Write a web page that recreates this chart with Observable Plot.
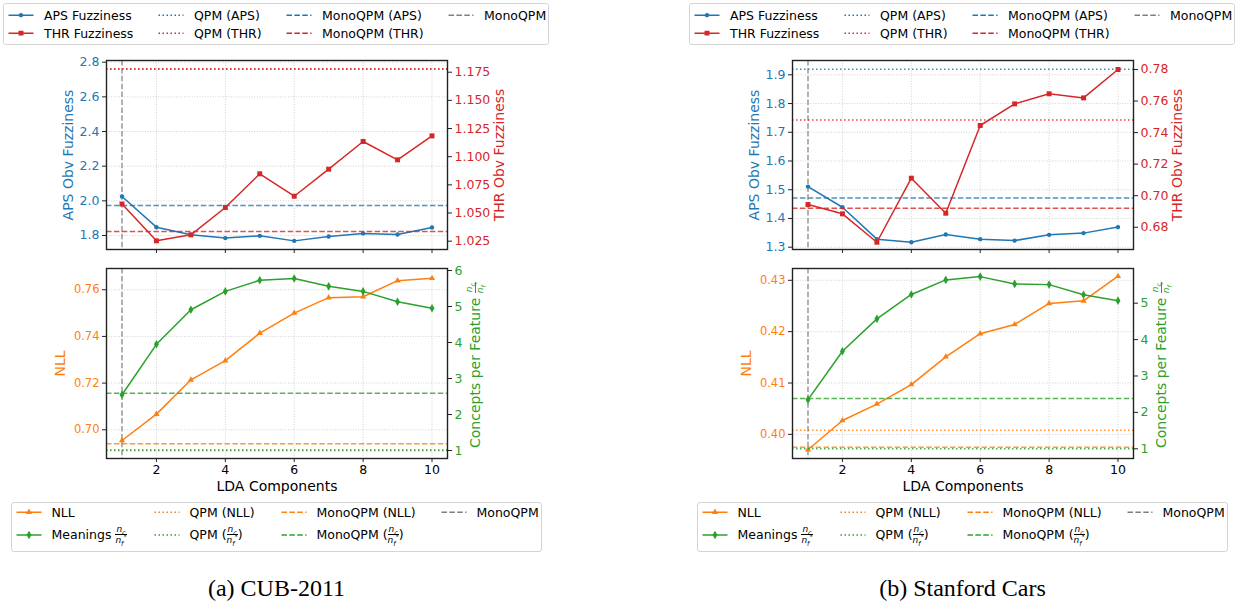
<!DOCTYPE html>
<html><head><meta charset="utf-8">
<script src="https://cdn.jsdelivr.net/npm/d3@7"></script>
<script src="https://cdn.jsdelivr.net/npm/@observablehq/plot@0.6"></script>
<style>
body{margin:0;background:#fff;}
#root{position:relative;width:1239px;height:603px;overflow:hidden;font-family:"DejaVu Sans",sans-serif;background:#fff;}
.legend{position:absolute;border:1px solid #d4d4d4;border-radius:3px;background:#fff;box-sizing:border-box;}
.entry{position:absolute;display:flex;align-items:center;white-space:nowrap;font-size:12.5px;color:#000;transform:translateY(-50%);line-height:1.1;}
.frac{display:inline-flex;flex-direction:column;align-items:center;vertical-align:middle;font-style:italic;font-size:9px;line-height:1;}
.frac .num{border-bottom:0.8px solid currentColor;padding:0 1px 0.5px;}
.frac .den{padding-top:0.5px;}
.frac sub,.frac sup{font-size:0.72em;line-height:0;}
.caption{position:absolute;font-family:"Liberation Serif","DejaVu Serif",serif;font-size:24px;transform:translate(-50%,-50%);white-space:nowrap;color:#000;}
.rlabel{position:absolute;transform:translate(-50%,-50%) rotate(-90deg);white-space:nowrap;font-size:14px;line-height:1;display:flex;align-items:center;}
</style>
</head><body><div id="root"></div>
<script>
// ---------- data ----------
const lda = [1, 2, 3, 4, 5, 6, 7, 8, 9, 10];
const xTicks = [2, 4, 6, 8, 10];
const monoQpmComponents = [1];

// (a) CUB-2011
const cubAPS = [2.025, 1.848, 1.804, 1.785, 1.798, 1.769, 1.794, 1.812, 1.806, 1.846];
const cubTHR = [1.058, 1.0253, 1.0306, 1.0549, 1.0848, 1.0649, 1.0889, 1.1135, 1.0972, 1.1185];
const cubNLL = [0.6954, 0.7067, 0.7214, 0.7296, 0.7414, 0.7500, 0.7566, 0.7570, 0.7639, 0.7649];
const cubMeanings = [2.55, 3.95, 4.91, 5.42, 5.73, 5.78, 5.56, 5.42, 5.13, 4.95];
const cubQpmAPS = 2.76, cubMonoAPS = 1.973;
const cubQpmTHR = 1.178, cubMonoTHR = 1.0336;
const cubQpmNLL = 0.6914, cubMonoNLL = 0.694;
const cubQpmMeanings = 1.0, cubMonoMeanings = 2.59;
const cubAPSTicks = [1.8, 2.0, 2.2, 2.4, 2.6, 2.8];
const cubTHRTicks = [1.025, 1.05, 1.075, 1.1, 1.125, 1.15, 1.175];
const cubNLLTicks = [0.70, 0.72, 0.74, 0.76];
const cubMeaningTicks = [1, 2, 3, 4, 5, 6];

// (b) Stanford Cars
const carsAPS = [1.511, 1.439, 1.328, 1.317, 1.344, 1.328, 1.323, 1.343, 1.349, 1.370];
const carsTHR = [0.6944, 0.6885, 0.6705, 0.7111, 0.6889, 0.7445, 0.7582, 0.7646, 0.7620, 0.7800];
const carsNLL = [0.3970, 0.4027, 0.4059, 0.4097, 0.4151, 0.4196, 0.4214, 0.4255, 0.4260, 0.4308];
const carsMeanings = [2.35, 3.68, 4.57, 5.24, 5.64, 5.73, 5.53, 5.51, 5.23, 5.07];
const carsQpmAPS = 1.919, carsMonoAPS = 1.471;
const carsQpmTHR = 0.748, carsMonoTHR = 0.692;
const carsQpmNLL = 0.4008, carsMonoNLL = 0.3975;
const carsQpmMeanings = 1.0, carsMonoMeanings = 2.38;
const carsAPSTicks = [1.3, 1.4, 1.5, 1.6, 1.7, 1.8, 1.9];
const carsTHRTicks = [0.68, 0.70, 0.72, 0.74, 0.76, 0.78];
const carsNLLTicks = [0.40, 0.41, 0.42, 0.43];
const carsMeaningTicks = [1, 2, 3, 4, 5];

const frac = '<span class="frac"><span class="num">n<sub>c</sub></span><span class="den">n<sub>f</sub><sup>*</sup></span></span>';
const topLegendLabels = ["APS Fuzziness", "THR Fuzziness", "QPM (APS)", "QPM (THR)", "MonoQPM (APS)", "MonoQPM (THR)", "MonoQPM"];
const bottomLegendLabels = ["NLL", "Meanings " + frac, "QPM (NLL)", "QPM (" + frac + ")", "MonoQPM (NLL)", "MonoQPM (" + frac + ")", "MonoQPM"];

// ---------- style ----------
const C = {blue: "#1f77b4", orange: "#ff7f0e", green: "#2ca02c", red: "#d62728", gray: "#7f7f7f"};
const DASH = "5.5,2.4", DOT = "1.5,2.5";
const FONT = '"DejaVu Sans", sans-serif';
const root = document.getElementById("root");
const SVG_W = 560, FRAME_L = 106, FRAME_R = 447;
const TOP = {svgTop: 40, frameTop: 60, frameBottom: 249, height: 230};
const BOT = {svgTop: 248, frameTop: 268, frameBottom: 458, height: 270};
const grid = {stroke: "#c6c6c6", strokeOpacity: 1, strokeWidth: 0.8, strokeDasharray: "1,1.6"};
const SYM = {
  circle: {type: d3.symbolCircle, r: 2.2, name: "circle"},
  square: {type: d3.symbolSquare, r: 2.8, name: "square"},
  triangle: {type: d3.symbolTriangle, r: 2.3, name: "triangle"},
  diamond: {type: d3.symbolDiamond, r: 2.6, name: "diamond"}
};

function mk(off, g, yDomain, marks) {
  const el = Plot.plot({
    width: SVG_W, height: g.height,
    marginLeft: FRAME_L, marginRight: SVG_W - FRAME_R,
    marginTop: g.frameTop - g.svgTop,
    marginBottom: g.height - (g.frameBottom - g.svgTop),
    x: {domain: [0.55, 10.45], axis: null},
    y: {domain: yDomain, axis: null},
    style: {background: "none", fontFamily: FONT, fontSize: "12.5px", overflow: "visible"},
    marks
  });
  el.style.position = "absolute";
  el.style.left = off + "px";
  el.style.top = g.svgTop + "px";
  el.style.maxWidth = "none";
  root.appendChild(el);
}

function seriesMarks(ys, color, sym) {
  return [
    Plot.line(lda, {x: d => d, y: (d, i) => ys[i], stroke: color, strokeWidth: 1.5}),
    Plot.dot(lda, {x: d => d, y: (d, i) => ys[i], fill: color, symbol: sym.name, r: sym.r})
  ];
}

function yLabel(text, anchor, dx, color) {
  return Plot.text([text], {text: d => d, frameAnchor: anchor, dx, rotate: -90, textAnchor: "middle", lineAnchor: "middle", fill: color, fontSize: 14});
}

function legend(off, box, cols, rows, labels, specs) {
  const lg = document.createElement("div");
  lg.className = "legend";
  Object.assign(lg.style, {left: (off + box.x) + "px", top: box.y + "px", width: box.w + "px", height: box.h + "px"});
  root.appendChild(lg);
  labels.forEach((lab, k) => {
    const col = Math.floor(k / 2), row = k % 2;
    const sp = specs[k];
    const div = document.createElement("div");
    div.className = "entry";
    div.style.left = cols[col] + "px";
    div.style.top = rows[row] + "px";
    const svg = d3.create("svg").attr("width", 26).attr("height", 12).style("flex", "none");
    svg.append("line").attr("x1", 0.5).attr("x2", 25.5).attr("y1", 6).attr("y2", 6)
      .attr("stroke", sp.color).attr("stroke-width", 1.5)
      .attr("stroke-dasharray", sp.style === "dash" ? DASH : sp.style === "dot" ? DOT : null);
    if (sp.sym) svg.append("path").attr("transform", "translate(13,6)")
      .attr("d", d3.symbol(sp.sym.type, Math.PI * sp.sym.r * sp.sym.r)()).attr("fill", sp.color);
    div.appendChild(svg.node());
    const t = document.createElement("span");
    t.style.marginLeft = "10px";
    t.innerHTML = lab;
    div.appendChild(t);
    lg.appendChild(div);
  });
}

function panel(off, P) {
  // top: APS (left axis)
  mk(off, TOP, P.apsDomain, [
    Plot.gridX(xTicks, grid),
    Plot.gridY(P.apsTicks, grid),
    Plot.ruleY([P.qpmAPS], {stroke: C.blue, strokeWidth: 1.5, strokeDasharray: DOT, strokeOpacity: 0.85}),
    Plot.ruleY([P.monoAPS], {stroke: C.blue, strokeWidth: 1.5, strokeDasharray: DASH, strokeOpacity: 0.8}),
    Plot.ruleX(monoQpmComponents, {stroke: C.gray, strokeWidth: 1.2, strokeDasharray: DASH}),
    ...seriesMarks(P.aps, C.blue, SYM.circle),
    Plot.axisY(P.apsTicks, {anchor: "left", tickSize: 4, tickPadding: 3, tickFormat: d3.format(".1f"), fill: C.blue, stroke: "#222", fontSize: 12.5, label: null}),
    Plot.axisX(xTicks, {anchor: "bottom", tickSize: 4, tickFormat: () => "", stroke: "#222", label: null}),
    yLabel("APS Obv Fuzziness", "left", -38, C.blue)
  ]);
  // top: THR (right axis)
  mk(off, TOP, P.thrDomain, [
    Plot.ruleY([P.qpmTHR], {stroke: C.red, strokeWidth: 1.5, strokeDasharray: DOT, strokeOpacity: 0.85}),
    Plot.ruleY([P.monoTHR], {stroke: C.red, strokeWidth: 1.5, strokeDasharray: DASH, strokeOpacity: 0.8}),
    ...seriesMarks(P.thr, C.red, SYM.square),
    Plot.axisY(P.thrTicks, {anchor: "right", tickSize: 4, tickPadding: 3, tickFormat: d3.format(P.thrFmt), fill: C.red, stroke: "#222", fontSize: 12.5, label: null}),
    yLabel("THR Obv Fuzziness", "right", P.thrLabelDx, C.red),
    Plot.frame({stroke: "#222", strokeWidth: 1.4})
  ]);
  // bottom: NLL (left axis)
  mk(off, BOT, P.nllDomain, [
    Plot.gridX(xTicks, grid),
    Plot.gridY(P.nllTicks, grid),
    Plot.ruleY([P.qpmNLL], {stroke: C.orange, strokeWidth: 1.5, strokeDasharray: DOT, strokeOpacity: 0.85}),
    Plot.ruleY([P.monoNLL], {stroke: C.orange, strokeWidth: 1.5, strokeDasharray: DASH, strokeOpacity: 0.8}),
    Plot.ruleX(monoQpmComponents, {stroke: C.gray, strokeWidth: 1.2, strokeDasharray: DASH}),
    ...seriesMarks(P.nll, C.orange, SYM.triangle),
    Plot.axisY(P.nllTicks, {anchor: "left", tickSize: 4, tickPadding: 3, tickFormat: d3.format(".2f"), fill: C.orange, stroke: "#222", fontSize: 11.5, label: null}),
    Plot.axisX(xTicks, {anchor: "bottom", tickSize: 4, tickPadding: 3, tickFormat: d3.format("d"), fill: "#000", stroke: "#222", fontSize: 12.5, label: null}),
    yLabel("NLL", "left", -45.5, C.orange),
    Plot.text(["LDA Components"], {text: d => d, frameAnchor: "bottom", dy: 28, textAnchor: "middle", lineAnchor: "middle", fill: "#000", fontSize: 14})
  ]);
  // bottom: meanings (right axis)
  mk(off, BOT, P.meanDomain, [
    Plot.ruleY([P.qpmMean], {stroke: C.green, strokeWidth: 1.5, strokeDasharray: DOT, strokeOpacity: 0.85}),
    Plot.ruleY([P.monoMean], {stroke: C.green, strokeWidth: 1.5, strokeDasharray: DASH, strokeOpacity: 0.8}),
    ...seriesMarks(P.mean, C.green, SYM.diamond),
    Plot.axisY(P.meanTicks, {anchor: "right", tickSize: 4, tickPadding: 3, tickFormat: d3.format("d"), fill: C.green, stroke: "#222", fontSize: 12.5, label: null}),
    Plot.frame({stroke: "#222", strokeWidth: 1.4})
  ]);
  // right label with fraction
  const rl = document.createElement("div");
  rl.className = "rlabel";
  rl.style.left = (off + 475) + "px";
  rl.style.top = "365px";
  rl.style.color = C.green;
  rl.innerHTML = 'Concepts per Feature&nbsp;' + frac;
  root.appendChild(rl);

  legend(off, {x: 3, y: 3, w: 546, h: 42}, [4, 154, 282, 444], [11.5, 29.5], topLegendLabels, [
    {color: C.blue, style: "solid", sym: SYM.circle}, {color: C.red, style: "solid", sym: SYM.square},
    {color: C.blue, style: "dot"}, {color: C.red, style: "dot"},
    {color: C.blue, style: "dash"}, {color: C.red, style: "dash"},
    {color: C.gray, style: "dash"}
  ]);
  legend(off, {x: 10.5, y: 502, w: 531, h: 50}, [4, 142, 269, 429], [9.5, 31.5], bottomLegendLabels, [
    {color: C.orange, style: "solid", sym: SYM.triangle}, {color: C.green, style: "solid", sym: SYM.diamond},
    {color: C.orange, style: "dot"}, {color: C.green, style: "dot"},
    {color: C.orange, style: "dash"}, {color: C.green, style: "dash"},
    {color: C.gray, style: "dash"}
  ]);
  const cap = document.createElement("div");
  cap.className = "caption";
  cap.style.left = (off + 276.5) + "px";
  cap.style.top = "588px";
  cap.textContent = P.caption;
  root.appendChild(cap);
}

panel(0, {
  aps: cubAPS, thr: cubTHR, nll: cubNLL, mean: cubMeanings,
  qpmAPS: cubQpmAPS, monoAPS: cubMonoAPS, qpmTHR: cubQpmTHR, monoTHR: cubMonoTHR,
  qpmNLL: cubQpmNLL, monoNLL: cubMonoNLL, qpmMean: cubQpmMeanings, monoMean: cubMonoMeanings,
  apsDomain: [1.7192, 2.8098], thrDomain: [1.0176, 1.1854], nllDomain: [0.6877, 0.7691], meanDomain: [0.778, 6.056],
  apsTicks: cubAPSTicks, thrTicks: cubTHRTicks, nllTicks: cubNLLTicks, meanTicks: cubMeaningTicks,
  thrFmt: ".3f", thrLabelDx: 52, caption: "(a) CUB-2011"
});
panel(686, {
  aps: carsAPS, thr: carsTHR, nll: carsNLL, mean: carsMeanings,
  qpmAPS: carsQpmAPS, monoAPS: carsMonoAPS, qpmTHR: carsQpmTHR, monoTHR: carsMonoTHR,
  qpmNLL: carsQpmNLL, monoNLL: carsMonoNLL, qpmMean: carsQpmMeanings, monoMean: carsMonoMeanings,
  apsDomain: [1.292, 1.9498], thrDomain: [0.6659, 0.7857], nllDomain: [0.3953, 0.4323], meanDomain: [0.733, 5.953],
  apsTicks: carsAPSTicks, thrTicks: carsTHRTicks, nllTicks: carsNLLTicks, meanTicks: carsMeaningTicks,
  thrFmt: ".2f", thrLabelDx: 44, caption: "(b) Stanford Cars"
});
</script></body></html>
